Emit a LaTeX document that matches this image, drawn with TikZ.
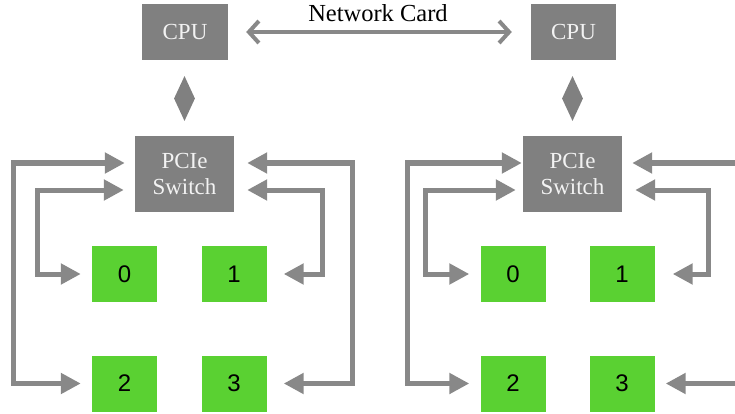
\documentclass[tikz,border=0pt]{standalone}
\usepackage{fontspec}
\setmainfont{Liberation Serif}
\newfontfamily\digitfont{Liberation Sans}
\usetikzlibrary{arrows.meta,shapes.geometric}
\definecolor{boxgray}{HTML}{808080}
\definecolor{linegray}{HTML}{888888}
\definecolor{gpugreen}{HTML}{5AD132}
\definecolor{boxtext}{HTML}{F2F2F2}
\tikzset{
  graybox/.style={fill=boxgray, text=boxtext, inner sep=0pt, font=\fontsize{23}{25.5}\selectfont, align=center},
  gpubox/.style={fill=gpugreen, minimum width=65pt, minimum height=56pt, inner sep=0pt, font=\digitfont\fontsize{24}{26}\selectfont},
  link/.style={fill=boxgray, diamond, minimum width=21pt, minimum height=45pt, inner sep=0pt},
  conn/.style={draw=linegray, line width=5pt, {Triangle[length=20pt,width=20pt]}-{Triangle[length=20pt,width=20pt]}},
  conn1/.style={draw=linegray, line width=5pt, -{Triangle[length=20pt,width=20pt]}},
  net/.style={draw=linegray, line width=4pt, {Straight Barb[length=10pt,width=22pt]}-{Straight Barb[length=10pt,width=22pt]}}
}
\begin{document}
\begin{tikzpicture}[x=1pt,y=-1pt]
\useasboundingbox (0,0) rectangle (735,414);
\clip (0,0) rectangle (735,414);
% CPUs
\node[graybox, minimum width=86pt, minimum height=56pt] (cpuL) at (185,32) {CPU};
\node[graybox, minimum width=85pt, minimum height=56pt] (cpuR) at (573.5,32) {CPU};
\node[font=\fontsize{24.5}{26}\selectfont, inner sep=0pt, anchor=base] (netlbl) at (378,21.5) {Network Card};
\draw[net] ([xshift=18pt]cpuL.east) -- ([xshift=-19pt]cpuR.west);
% links
\node[link] (dL) at (184.5,98.5) {};
\node[link] (dR) at (572.5,98.5) {};
% PCIe switches
\node[graybox, minimum width=99pt, minimum height=76pt] (pL) at (184.5,174) {\raisebox{-3pt}{\parbox{99pt}{\centering PCIe\\Switch}}};
\node[graybox, minimum width=99pt, minimum height=76pt] (pR) at (572.5,174) {\raisebox{-3pt}{\parbox{99pt}{\centering PCIe\\Switch}}};
% GPUs left
\node[gpubox] (g0L) at (124.5,274) {0};
\node[gpubox] (g1L) at (234,274) {1};
\node[gpubox] (g2L) at (124.5,383.5) {2};
\node[gpubox] (g3L) at (234,383.5) {3};
% GPUs right
\node[gpubox] (g0R) at (513,274) {0};
\node[gpubox] (g1R) at (622,274) {1};
\node[gpubox] (g2R) at (513,383.5) {2};
\node[gpubox] (g3R) at (622,383.5) {3};
\coordinate (offA) at (760,163);
\coordinate (offB) at (760,383.5);
% connectors left group
\draw[conn] ([xshift=-10pt]pL.west |- 0,163) -- (13,163) |- ([xshift=-11pt]g2L.west);
\draw[conn] ([xshift=-11pt]pL.west |- 0,190) -- (37,190) |- ([xshift=-11pt]g0L.west);
\draw[conn] ([xshift=13pt]pL.east |- 0,163) -- (352,163) |- ([xshift=17pt]g3L.east);
\draw[conn] ([xshift=13pt]pL.east |- 0,190) -- (322,190) |- ([xshift=17pt]g1L.east);
% connectors right group
\draw[conn] ([xshift=-1pt]pR.west |- 0,163) -- (407,163) |- ([xshift=-11pt]g2R.west);
\draw[conn] ([xshift=-7pt]pR.west |- 0,190) -- (425,190) |- ([xshift=-11pt]g0R.west);
\draw[conn1] (offA) -- ([xshift=10pt]pR.east |- 0,163);
\draw[conn] ([xshift=13pt]pR.east |- 0,190) -- (708,190) |- ([xshift=18pt]g1R.east);
\draw[conn1] (offB) -- ([xshift=11pt]g3R.east);
\end{tikzpicture}
\end{document}
